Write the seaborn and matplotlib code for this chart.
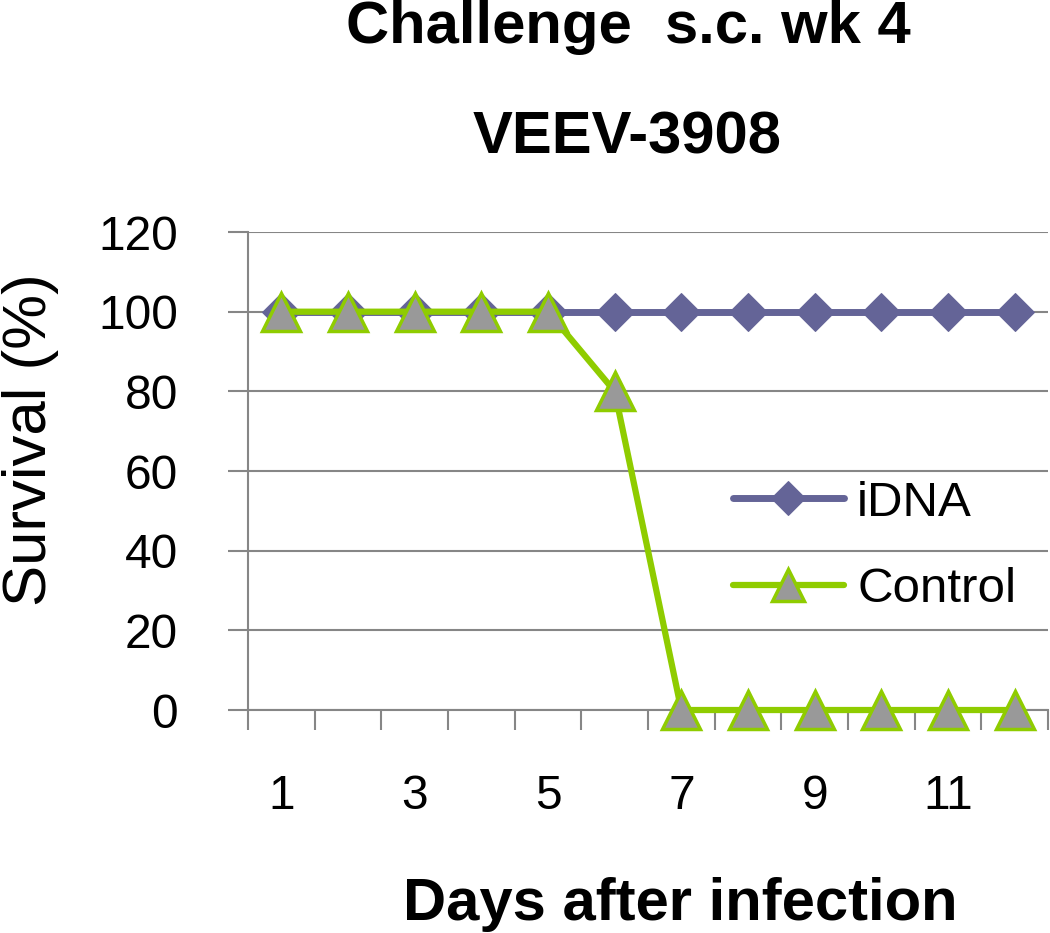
import matplotlib
matplotlib.use("Agg")
import matplotlib.pyplot as plt
import pandas as pd
import seaborn as sns
from matplotlib.ticker import FixedLocator

days = list(range(1, 13))
idna_survival = [100, 100, 100, 100, 100, 100, 100, 100, 100, 100, 100, 100]
control_survival = [100, 100, 100, 100, 100, 80, 0, 0, 0, 0, 0, 0]
series_names = ["iDNA", "Control"]
x_tick_positions = [1, 3, 5, 7, 9, 11]
x_tick_labels = ["1", "3", "5", "7", "9", "11"]
y_ticks = [0, 20, 40, 60, 80, 100, 120]

IDNA_COLOR = "#646497"
CONTROL_COLOR = "#8fcc00"
MARKER_FACE = "#999999"
AXIS_GRAY = "#868686"

sns.set_style("white")
plt.rcParams["font.family"] = ["Liberation Sans", "DejaVu Sans"]
plt.rcParams["text.color"] = "black"
plt.rcParams["xtick.labelcolor"] = "black"
plt.rcParams["ytick.labelcolor"] = "black"
plt.rcParams["axes.labelcolor"] = "black"

df = pd.DataFrame({
    "day": days * 2,
    "survival": idna_survival + control_survival,
    "group": [series_names[0]] * len(days) + [series_names[1]] * len(days),
})

fig = plt.figure(figsize=(10.5, 9.33), dpi=100)
ax = fig.add_axes([0.2362, 0.239, 0.7619, 0.5123])

# one lineplot per series so each gets its own marker styling
sns.lineplot(
    data=df[df.group == "iDNA"], x="day", y="survival", ax=ax,
    color=IDNA_COLOR, linewidth=5, marker="D", markersize=19.5,
    markerfacecolor=IDNA_COLOR, markeredgecolor=IDNA_COLOR,
    label="iDNA", clip_on=False, zorder=3,
)
sns.lineplot(
    data=df[df.group == "Control"], x="day", y="survival", ax=ax,
    color=CONTROL_COLOR, linewidth=4.5, marker="^", markersize=27,
    markerfacecolor=MARKER_FACE, markeredgecolor=CONTROL_COLOR,
    markeredgewidth=2.5, label="Control", clip_on=False, zorder=4,
)

ax.set_xlim(0.5, 12.5)
ax.set_ylim(0, 120)
ax.set_yticks(y_ticks)
ax.set_xticks(x_tick_positions)
ax.set_xticklabels(x_tick_labels)
ax.xaxis.set_minor_locator(FixedLocator([d - 0.5 for d in days] + [12.5]))
ax.grid(axis="y", color=AXIS_GRAY, linewidth=1.5)
ax.set_axisbelow(True)

for side in ["top", "right"]:
    ax.spines[side].set_visible(False)
for side in ["left", "bottom"]:
    ax.spines[side].set_color(AXIS_GRAY)
    ax.spines[side].set_linewidth(1.5)

ax.tick_params(axis="x", which="major", length=0, pad=46, labelsize=34.5)
ax.tick_params(axis="x", which="minor", length=14.4, width=1.5, color=AXIS_GRAY,
               direction="out", bottom=True)
ax.tick_params(axis="y", length=14.4, width=1.5, color=AXIS_GRAY, direction="out",
               left=True, pad=36, labelsize=34.5)

ax.set_xlabel("Days after infection", fontsize=43, fontweight="bold")
ax.xaxis.label.set_va("baseline")
ax.xaxis.set_label_coords(0.541, -0.439)
ax.set_ylabel("Survival (%)", fontsize=44.5)
ax.yaxis.set_label_coords(-0.236, 0.565)

fig.text(0.598, 1 - 43 / 933, "Challenge  s.c. wk 4", ha="center", va="baseline",
         fontsize=43, fontweight="bold")
fig.text(0.597, 1 - 153 / 933, "VEEV-3908", ha="center", va="baseline",
         fontsize=43, fontweight="bold")

leg = ax.legend(loc="upper left", bbox_to_anchor=(0.606, 0.48), frameon=False,
                fontsize=35.5, handlelength=2.25, labelspacing=0.85,
                handletextpad=0.27, borderaxespad=0, borderpad=0)
leg_sizes = [17, 23]
for handle, size in zip(leg.legend_handles, leg_sizes):
    handle.set_markersize(size)

fig.savefig("out.png", dpi=100, facecolor="white")
